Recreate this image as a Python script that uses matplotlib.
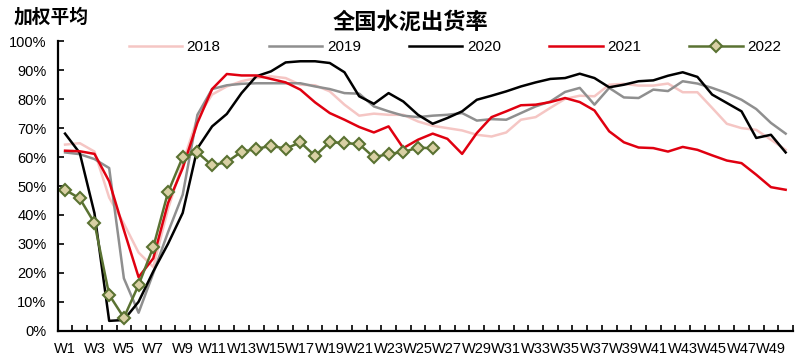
import matplotlib
matplotlib.use("Agg")
import matplotlib.pyplot as plt
from matplotlib.ticker import FixedLocator, FuncFormatter

plt.rcParams['font.family'] = ['Liberation Sans', 'Noto Sans CJK SC', 'DejaVu Sans']

weeks = [f"W{i}" for i in range(1, 51)]

y2018 = [64.3, 64.8, 61.9, 46.0, 37.0, 27.0, 22.0, 42.0, 57.9, 73.5,
         81.6, 84.4, 86.2, 87.3, 87.9, 87.3, 85.0, 84.8, 82.7, 78.1,
         74.3, 75.0, 74.6, 74.6, 72.3, 70.8, 70.0, 69.2, 67.7, 67.1,
         68.5, 72.9, 73.8, 77.0, 80.1, 81.2, 81.0, 85.0, 85.3, 84.7,
         84.7, 85.4, 82.4, 82.4, 77.0, 71.5, 70.0, 69.4, 66.0, 62.5]
y2019 = [61.6, 61.0, 59.3, 56.2, 18.1, 6.2, 19.9, 34.0, 47.0, 74.6,
         83.5, 84.8, 85.3, 85.5, 85.5, 85.5, 85.5, 84.4, 83.5, 82.1,
         81.9, 77.5, 75.8, 74.3, 73.8, 74.3, 74.6, 75.2, 72.6, 73.1,
         72.9, 75.2, 77.5, 79.2, 82.5, 83.9, 78.1, 83.9, 80.6, 80.4,
         83.3, 82.8, 86.2, 85.4, 83.9, 82.1, 79.8, 76.6, 71.8, 68.1]
y2020 = [68.1, 61.4, 40.6, 3.4, 3.7, 10.0, 20.5, 30.0, 40.7, 63.0,
         70.6, 74.9, 82.1, 87.9, 89.6, 92.7, 93.1, 93.1, 92.5, 89.3,
         81.0, 78.4, 82.1, 79.2, 74.6, 71.5, 73.5, 75.8, 79.8, 81.2,
         82.7, 84.4, 85.8, 87.0, 87.3, 88.8, 87.3, 84.1, 85.0, 86.2,
         86.5, 88.1, 89.3, 87.7, 81.6, 78.7, 75.8, 66.6, 67.7, 61.6]
y2021 = [62.2, 62.0, 61.1, 51.6, 34.8, 18.5, 25.0, 44.1, 56.2, 71.8,
         83.5, 88.7, 88.2, 88.2, 87.0, 85.8, 83.3, 78.9, 75.2, 72.9,
         70.4, 68.5, 70.6, 63.1, 66.0, 68.1, 66.3, 61.1, 68.3, 73.8,
         75.8, 77.9, 78.1, 79.0, 80.4, 79.0, 76.1, 68.9, 65.1, 63.3,
         63.1, 61.9, 63.5, 62.5, 60.6, 58.8, 57.9, 53.9, 49.6, 48.7]
y2022 = [48.7, 45.7, 37.2, 12.4, 4.5, 15.8, 28.9, 47.8, 60.0, 61.6,
         57.1, 58.3, 61.8, 62.8, 63.9, 62.9, 65.1, 60.4, 65.2, 64.8,
         64.5, 59.9, 61.1, 61.7, 63.3, 63.0]

series = [
    ("2018", y2018, dict(color="#f5c6c4", lw=1.8)),
    ("2019", y2019, dict(color="#8f8f8f", lw=1.8)),
    ("2020", y2020, dict(color="#000000", lw=1.8)),
    ("2021", y2021, dict(color="#e00010", lw=1.8)),
    ("2022", y2022, dict(color="#5a7232", lw=1.8, marker="D", markersize=6.5,
                         markerfacecolor="#d9d0a4", markeredgecolor="#5a7232",
                         markeredgewidth=1.5)),
]

fig = plt.figure(figsize=(7.96, 3.58), dpi=100)
ax = fig.add_axes([57.7/796, 1-330.7/358, (793-57.7)/796, (330.7-41.3)/358])

for name, vals, st in series:
    xs = list(range(1, len(vals) + 1))
    ax.plot(xs, [v/100 for v in vals], label=name, **st)

ax.set_xlim(0.5, 50.5)
ax.set_ylim(0, 1.0)
ax.set_yticks([i/10 for i in range(11)])
ax.yaxis.set_major_formatter(FuncFormatter(lambda v, p: f"{int(round(v*100))}%"))
ax.set_xticks(range(1, 51, 2))
ax.set_xticklabels(weeks[::2])
ax.xaxis.set_minor_locator(FixedLocator([i + 0.5 for i in range(0, 51)]))
ax.tick_params(axis='x', which='major', length=0, pad=8, labelsize=10.5)
ax.tick_params(axis='x', which='minor', direction='in', length=4, width=1.2)
ax.tick_params(axis='y', which='major', direction='in', length=4, width=1.2, labelsize=10.5, pad=8)
for s in ['top', 'right']:
    ax.spines[s].set_visible(False)
for s in ['left', 'bottom']:
    ax.spines[s].set_linewidth(1.6)
    ax.spines[s].set_color('black')

fig.legend(loc='center', bbox_to_anchor=(455/796, 1-47/358), ncol=5, frameon=False,
           fontsize=11, handlelength=3.5, handletextpad=0.3, columnspacing=3.15)

fig.text(410/796, 1-22/358, "全国水泥出货率", ha='center', va='center', fontsize=16,
         fontweight='bold', family=['Noto Sans CJK SC'])
fig.text(14/796, 1-17/358, "加权平均", ha='left', va='center', fontsize=13.5,
         fontweight='bold', family=['Noto Sans CJK SC'])

fig.savefig("out.png", dpi=100)
